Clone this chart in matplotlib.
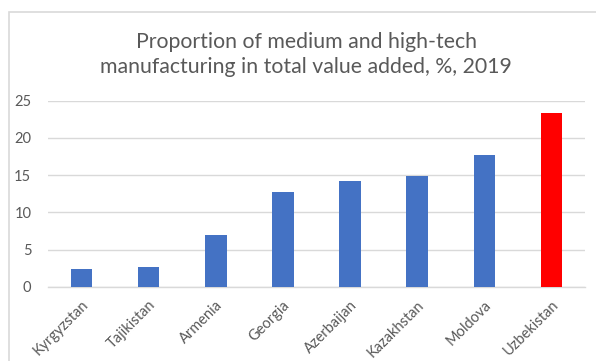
import matplotlib.pyplot as plt
from matplotlib.patches import Rectangle

countries = ['Kyrgyzstan', 'Tajikistan', 'Armenia', 'Georgia',
             'Azerbaijan', 'Kazakhstan', 'Moldova', 'Uzbekistan']
share = [2.4, 2.6, 7.0, 12.7, 14.2, 14.9, 17.7, 23.3]
bar_colors = ['#4472C4'] * 7 + ['#FF0000']
yticks = [0, 5, 10, 15, 20, 25]

plt.rcParams['font.family'] = ['Lato', 'DejaVu Sans']

W, H = 596, 361
fig = plt.figure(figsize=(W / 100, H / 100), dpi=100)
fig.patch.set_facecolor('white')

# chart frame, cut off at right and bottom
fig.patches.append(Rectangle((8.5 / W, -0.1), 1.2, 1.1 - 11.5 / H,
                             transform=fig.transFigure, fill=False,
                             edgecolor='#d9d9d9', linewidth=1.2))

ax = fig.add_axes([48 / W, 1 - 286.7 / H, (585 - 48) / W, (286.7 - 100.7) / H])
x = range(len(countries))
ax.bar(x, share, width=0.32, color=bar_colors, zorder=3)

ax.set_xlim(-0.5, len(countries) - 0.5)
ax.set_ylim(0, 25)
ax.set_yticks(yticks)
ax.grid(axis='y', color='#d9d9d9', linewidth=1.0, zorder=0)
for s in ['top', 'right', 'left']:
    ax.spines[s].set_visible(False)
ax.spines['bottom'].set_color('#d9d9d9')
ax.spines['bottom'].set_linewidth(1.0)
ax.tick_params(axis='both', length=0, colors='#595959', labelsize=10.5)
ax.tick_params(axis='y', pad=12)

ax.set_xticks(list(x))
ax.set_xticklabels(countries, rotation=45, ha='right', va='top',
                   rotation_mode='anchor')
ax.tick_params(axis='x', pad=8)

fig.text(306 / W, 1 - 54.5 / H,
         'Proportion of medium and high-tech\nmanufacturing in total value added, %, 2019',
         ha='center', va='center', fontsize=15.3, color='#595959',
         linespacing=1.36)

fig.savefig('out.png', dpi=100)
